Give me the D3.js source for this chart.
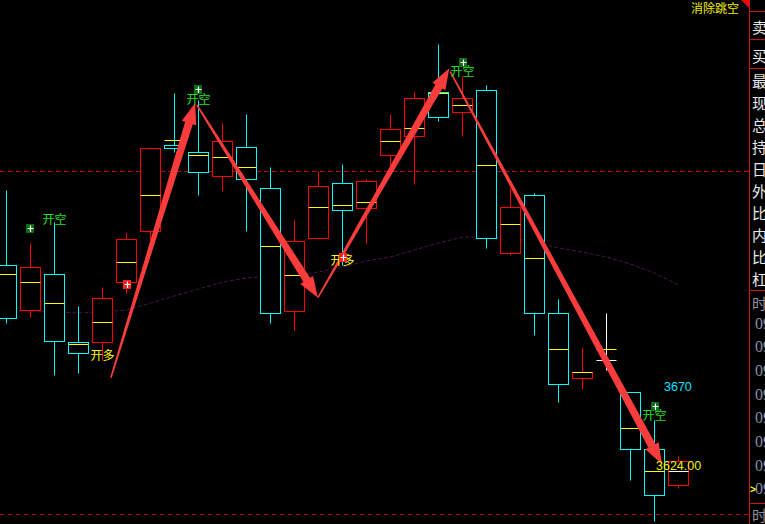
<!DOCTYPE html>
<html>
<head>
<meta charset="utf-8">
<script src="https://cdn.jsdelivr.net/npm/d3@7"></script>
<style>
  html, body { margin: 0; padding: 0; background: #000; }
  svg { display: block; }
</style>
</head>
<body>
<div id="chart"></div>
<script>
// K线数据 (每根一个价格)
const opens  = [3741,3715,3736,3696,3696,3731,3761,3811,3807,3793,3810,3786,3714,3757,3789,3774,3805,3816,3842,3830,3843,3748,3782,3713,3675,3686,3667,3634,3613]
const highs  = [3785,3754,3766,3717,3728,3760,3810,3841,3837,3824,3829,3798,3767,3796,3800,3791,3829,3842,3870,3851,3846,3786,3783,3721,3693,3713,3667,3651,3630]
const lows   = [3707,3711,3677,3678,3686,3725,3756,3807,3782,3784,3761,3707,3703,3757,3741,3754,3799,3788,3825,3816,3751,3747,3700,3661,3669,3680,3616,3592,3611]
const closes = [3710,3740,3697,3690,3722,3756,3809,3809,3795,3813,3791,3713,3755,3787,3773,3790,3820,3838,3827,3838,3757,3775,3713,3672,3679,3686,3634,3607,3627]
// 黄线 (均价)
const avgs   = [3736,3731,3719,3695,3708,3743,3782,3814,3805,3804,3798,3752,3735,3775,3776,3778,3813,3821,3841,3834,3799,3765,3745,3692,3679,3692,3646,3621,3621]
// 紫色均线
const ma     = [3714.3,3714.3,3713.7,3713.1,3713.7,3714.8,3718.9,3723.0,3727.1,3731.1,3733.5,3734.6,3734.6,3737.0,3739.9,3743.4,3745.7,3749.8,3753.9,3757.3,3757.3,3756.8,3754.4,3750.9,3748.6,3745.7,3741.6,3736.4,3729.4]

const upperLine = 3796
const lowerLine = 3596

// 信号标记 [index, price, type]
const markers = [[1,3762.6,'空'],[5,3730.0,'多'],[8,3843.5,'空'],[14,3745.7,'多'],[19,3859.5,'空'],[27,3659.2,'空']]
const signals = [[2,3768.4,'开空'],[4,3689.2,'开多'],[8,3837.7,'开空'],[14,3744.5,'开多'],[19,3854.3,'开空'],[27,3654.0,'开空']]

// 箭头 [起点index, 起点价, 终点index, 终点价]
const arrows = [
  [4.35,3675.4,7.86,3835.4],
  [7.93,3834.2,12.975,3722.0],
  [12.975,3722.0,18.45,3855.6],
  [18.49,3853.6,27.31,3625.0]
]

const priceTags = [[3670,'3670','#00e5ff'],[3624,'3624.00','#f0f000']]

const panelTop = ['卖','买']
const panelRows = ['最','现','总','持','日','外','比','内','比','杠']
const timeRows = ['09','09','09','09','09','09','09','09']

const W = 765, H = 524, plotR = 749

const svg = d3.select('#chart').append('svg')
  .attr('width', W).attr('height', H)
  .style('background', '#000')

const x = d3.scaleLinear().domain([0, 28]).range([6.5, 678.5])
const y = d3.scaleLinear().domain([3624, 3670]).range([466, 387])
const py = v => Math.round(y(v)) + 0.5

const candles = opens.map((o, i) => ({
  i, o, h: highs[i], l: lows[i], c: closes[i], m: avgs[i]
}))
const colorOf = d => d.c > d.o ? '#ff0000' : (d.c < d.o ? '#00ffff' : '#ffffff')

// 虚线
svg.append('line')
  .attr('x1', 0).attr('x2', plotR)
  .attr('y1', py(upperLine)).attr('y2', py(upperLine))
  .attr('stroke', '#b80000').attr('stroke-dasharray', '5,3')
svg.append('line')
  .attr('x1', 0).attr('x2', plotR)
  .attr('y1', py(lowerLine)).attr('y2', py(lowerLine))
  .attr('stroke', '#b00000').attr('stroke-dasharray', '4,4')

// 均线
svg.append('path')
  .datum(ma)
  .attr('fill', 'none')
  .attr('stroke', '#4c0f52')
  .attr('stroke-width', 1)
  .attr('stroke-dasharray', '4,2')
  .attr('d', d3.line().x((d, i) => x(i)).y(d => y(d)))

// K线
const cg = svg.append('g')
cg.selectAll('line.wick').data(candles).join('line')
  .attr('class', 'wick')
  .attr('x1', d => x(d.i)).attr('x2', d => x(d.i))
  .attr('y1', d => py(d.h)).attr('y2', d => py(d.l))
  .attr('stroke', colorOf)

cg.selectAll('rect.body').data(candles.filter(d => d.o !== d.c)).join('rect')
  .attr('class', 'body')
  .attr('x', d => x(d.i) - 10)
  .attr('y', d => py(Math.max(d.o, d.c)))
  .attr('width', 20)
  .attr('height', d => py(Math.min(d.o, d.c)) - py(Math.max(d.o, d.c)))
  .attr('fill', '#000')
  .attr('stroke', colorOf)

cg.selectAll('line.doji').data(candles.filter(d => d.o === d.c)).join('line')
  .attr('class', 'doji')
  .attr('x1', d => x(d.i) - 10).attr('x2', d => x(d.i) + 10)
  .attr('y1', d => py(d.o)).attr('y2', d => py(d.o))
  .attr('stroke', '#ffffff')

cg.selectAll('line.avg').data(candles).join('line')
  .attr('class', 'avg')
  .attr('x1', d => x(d.i) - 10).attr('x2', d => x(d.i) + 10)
  .attr('y1', d => py(d.m)).attr('y2', d => py(d.m))
  .attr('stroke', d => d.i === candles.length - 1 ? '#ffffff' : '#ffff00')

// 箭头
function arrowPath(a) {
  const x0 = x(a[0]), y0 = y(a[1]), x1 = x(a[2]), y1 = y(a[3])
  const len = Math.hypot(x1 - x0, y1 - y0)
  const ux = (x1 - x0) / len, uy = (y1 - y0) / len
  const nx = -uy, ny = ux
  const hl = 21, hw = 7.5, w0 = 0.8, w1 = 4
  const bx = x1 - ux * hl, by = y1 - uy * hl
  const pts = [
    [x0 + nx * w0, y0 + ny * w0],
    [bx + nx * w1, by + ny * w1],
    [bx + nx * hw, by + ny * hw],
    [x1, y1],
    [bx - nx * hw, by - ny * hw],
    [bx - nx * w1, by - ny * w1],
    [x0 - nx * w0, y0 - ny * w0]
  ]
  return 'M' + pts.map(p => p.join(',')).join('L') + 'Z'
}
svg.append('g').selectAll('path').data(arrows).join('path')
  .attr('d', arrowPath)
  .attr('fill', '#fa3c3c')

// 信号文字
svg.append('g').selectAll('text').data(signals).join('text')
  .attr('x', d => x(d[0]))
  .attr('y', d => y(d[1]))
  .attr('text-anchor', 'middle')
  .attr('dominant-baseline', 'central')
  .attr('font-family', '"Noto Sans CJK SC", sans-serif')
  .attr('font-size', 12)
  .attr('fill', d => d[2] === '开空' ? '#22e022' : '#ffff00')
  .text(d => d[2])

// 信号方块
const mg = svg.append('g').selectAll('g').data(markers).join('g')
  .attr('transform', d => `translate(${Math.round(x(d[0]))},${Math.round(y(d[1]))})`)
mg.append('rect')
  .attr('x', -4).attr('y', -4).attr('width', 8).attr('height', 9)
  .attr('fill', d => d[2] === '空' ? '#0c6e14' : '#ff2020')
mg.append('path')
  .attr('d', 'M-2.5,0.5H3.5M0.5,-2.5V4')
  .attr('stroke', '#ffffff').attr('stroke-width', 1.2)

// 价格标签
svg.append('g').selectAll('text').data(priceTags).join('text')
  .attr('x', (d, i) => i === 0 ? 664 : 656)
  .attr('y', d => y(d[0]))
  .attr('dominant-baseline', 'central')
  .attr('font-family', '"Liberation Sans", Arial, sans-serif')
  .attr('font-size', 12.5)
  .attr('fill', d => d[2])
  .text(d => d[1])

// 右上角
svg.append('text')
  .attr('x', 739).attr('y', 7)
  .attr('text-anchor', 'end')
  .attr('dominant-baseline', 'central')
  .attr('font-family', '"Noto Sans CJK SC", sans-serif')
  .attr('font-size', 12)
  .attr('fill', '#f0f000')
  .text('消除跳空')
svg.append('path')
  .attr('d', 'M741,0L749,0L749,8Z')
  .attr('fill', '#e01010')

// 右侧面板
const panel = svg.append('g')
panel.append('line')
  .attr('x1', plotR + 0.5).attr('x2', plotR + 0.5)
  .attr('y1', 0).attr('y2', H)
  .attr('stroke', '#d01010')
;[11, 39, 68, 290, 503].forEach(v => {
  panel.append('line')
    .attr('x1', plotR).attr('x2', W)
    .attr('y1', v + 0.5).attr('y2', v + 0.5)
    .attr('stroke', '#d01010')
})
const cjk = '"Noto Sans CJK SC", sans-serif'
panel.selectAll('text.top').data(panelTop).join('text')
  .attr('class', 'top')
  .attr('x', 752).attr('y', (d, i) => [26, 55][i])
  .attr('dominant-baseline', 'central')
  .attr('font-family', cjk).attr('font-size', 15)
  .attr('fill', '#e8e8e8')
  .text(d => d)
panel.selectAll('text.row').data(panelRows).join('text')
  .attr('class', 'row')
  .attr('x', 752).attr('y', (d, i) => 80 + i * 22)
  .attr('dominant-baseline', 'central')
  .attr('font-family', cjk).attr('font-size', 15)
  .attr('fill', '#e8e8e8')
  .text(d => d)
panel.append('text')
  .attr('x', 752).attr('y', 302)
  .attr('dominant-baseline', 'central')
  .attr('font-family', cjk).attr('font-size', 15)
  .attr('fill', '#8c8c9c')
  .text('时')
panel.append('text')
  .attr('x', 752).attr('y', 514)
  .attr('dominant-baseline', 'central')
  .attr('font-family', cjk).attr('font-size', 15)
  .attr('fill', '#8c8c9c')
  .text('时')
panel.selectAll('text.time').data(timeRows).join('text')
  .attr('class', 'time')
  .attr('x', 755).attr('y', (d, i) => 323 + i * 23.7)
  .attr('dominant-baseline', 'central')
  .attr('font-family', '"Liberation Serif", serif').attr('font-size', 16)
  .attr('fill', '#8c8ca4')
  .text(d => d)
panel.append('text')
  .attr('x', 750).attr('y', 489)
  .attr('dominant-baseline', 'central')
  .attr('font-family', '"Liberation Sans", sans-serif').attr('font-size', 10)
  .attr('font-weight', 'bold')
  .attr('fill', '#ffff00')
  .text('>')
</script>
</body>
</html>
